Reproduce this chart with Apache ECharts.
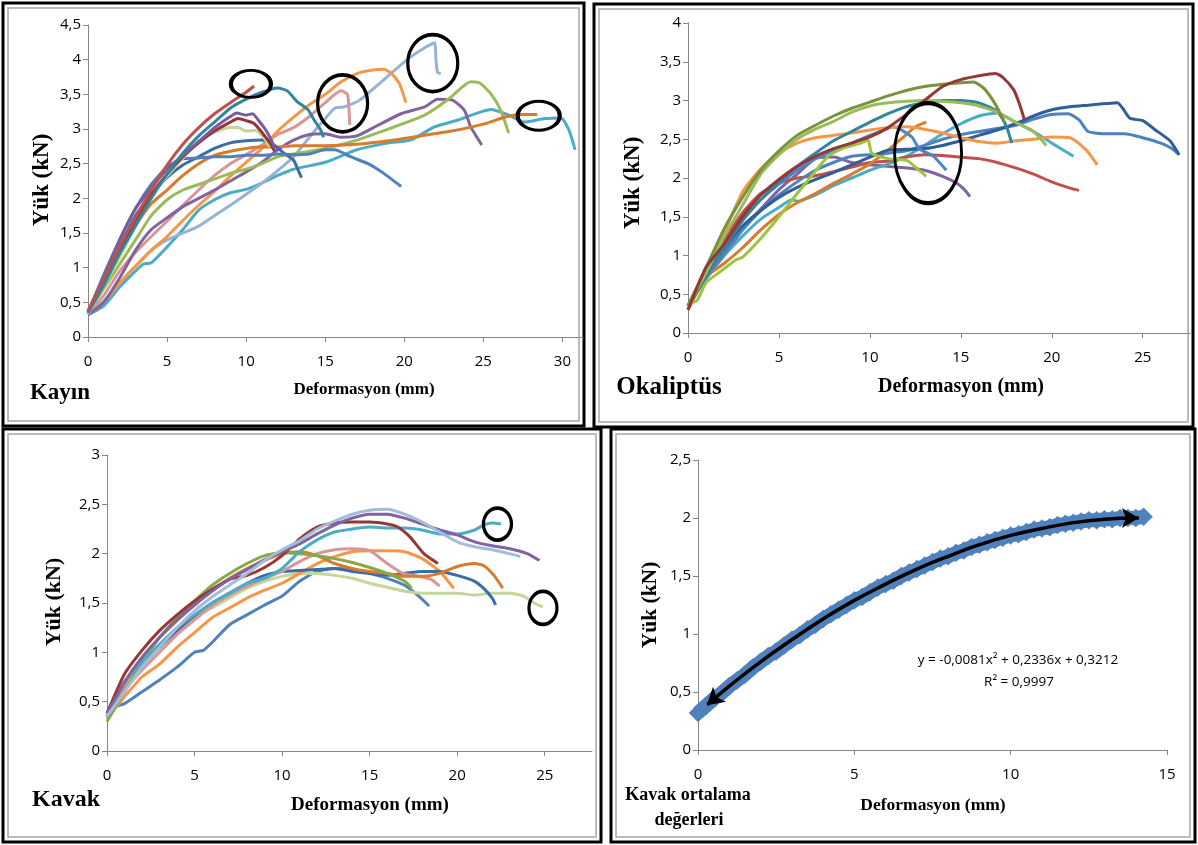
<!DOCTYPE html>
<html>
<head>
<meta charset="utf-8">
<script src="https://cdn.jsdelivr.net/npm/echarts@6/dist/echarts.min.js"></script>
<style>
  html, body { margin: 0; padding: 0; background: #fff; }
  #chart { width: 1198px; height: 845px; }
</style>
</head>
<body>
<div id="chart"></div>
<script>
// tick labels
const kayinXTicks = [0, 5, 10, 15, 20, 25, 30];
const okalXTicks = [0, 5, 10, 15, 20, 25];
const kavakXTicks = [0, 5, 10, 15, 20, 25];
const meanXTicks = [0, 5, 10, 15];

// Kayın curves [deformasyon mm, yük kN]
const kayinRed = [[0,0.38],[1,0.85],[2,1.3],[3,1.72],[4,2.12],[5,2.48],[6,2.78],[7,3.02],[8,3.22],[9,3.38],[10,3.53],[10.5,3.62]];
const kayinTeal = [[0,0.35],[1,0.75],[2,1.2],[3,1.6],[4,2.0],[5,2.35],[6,2.65],[7,2.9],[8,3.1],[9,3.3],[10,3.43],[11,3.53],[12,3.59],[12.6,3.55],[13.2,3.4],[13.9,3.28],[14.3,3.13],[14.7,2.99],[14.9,2.88]];
const kayinPurple = [[0,0.35],[1,0.85],[2,1.4],[3,1.85],[4,2.15],[5,2.42],[6,2.62],[7,2.82],[8,3.02],[9,3.18],[9.4,3.23],[10,3.2],[10.4,3.22],[10.8,3.12],[11.2,3.0],[11.6,2.84],[11.8,2.72]];
const kayinMaroon = [[0,0.35],[1,0.8],[2,1.25],[3,1.68],[4,2.05],[5,2.35],[6,2.6],[7,2.8],[8,2.97],[9,3.1],[9.5,3.15],[10,3.12],[10.5,3.08],[11,2.95],[11.5,2.8],[11.8,2.68]];
const kayinLightGreen = [[0,0.33],[1,0.75],[2,1.15],[3,1.6],[4,2.02],[5,2.32],[6,2.58],[7,2.82],[8,2.95],[9,3.02],[9.5,3.02],[10,2.97],[10.6,2.98],[11.1,2.88],[11.5,2.74]];
const kayinBlue = [[0,0.35],[1,0.9],[2,1.4],[3,1.85],[4,2.2],[5,2.45],[6,2.57],[7,2.58],[8,2.6],[9,2.6],[10,2.62],[11,2.62],[12,2.64],[13,2.63],[14,2.64],[15,2.7],[15.6,2.7],[16.6,2.6],[17.7,2.5],[18.7,2.36],[19.8,2.17]];
const kayinDarkBlue = [[0,0.35],[1,0.8],[2,1.3],[3,1.75],[4,2.05],[5,2.3],[6,2.48],[7,2.6],[8,2.72],[9,2.8],[10,2.83],[11,2.84],[11.7,2.78],[12.4,2.65],[13,2.55],[13.3,2.4],[13.5,2.3]];
const kayinDarkOrange = [[0,0.35],[1,0.75],[2,1.2],[3,1.6],[4,1.92],[5,2.12],[6,2.33],[7,2.5],[8,2.62],[9,2.68],[10,2.72],[11,2.74],[12,2.74],[13,2.76],[15,2.76],[17,2.78],[19,2.83],[21,2.9],[23,2.97],[25,3.07],[26.5,3.18],[27.5,3.21],[28.4,3.21]];
const kayinGreen = [[0,0.35],[1,0.7],[2,1.05],[3,1.4],[4,1.75],[5,1.98],[6,2.12],[7,2.2],[8,2.28],[9,2.36],[10,2.42],[11,2.5],[12,2.6],[13,2.64],[15,2.72],[17,2.84],[19,3.0],[21,3.17],[22,3.3],[23,3.47],[24.2,3.68],[24.8,3.66],[25.5,3.5],[26.1,3.27],[26.6,2.94]];
const kayinPurple2 = [[0,0.32],[1,0.5],[2,0.85],[3,1.25],[4,1.55],[5,1.72],[6,1.88],[7,2.0],[8,2.12],[9,2.25],[10,2.38],[11,2.52],[12,2.7],[13,2.84],[14,2.92],[15,2.93],[16,2.88],[17,2.9],[18.3,3.05],[19.8,3.22],[21.3,3.32],[22.1,3.43],[23,3.42],[23.8,3.27],[24.2,3.03],[24.9,2.77]];
const kayinOrange = [[0,0.33],[1,0.5],[2,0.78],[3,1.02],[4,1.25],[5,1.45],[6,1.68],[7,1.9],[8,2.1],[9,2.32],[10,2.52],[11,2.72],[12,2.97],[13,3.17],[14,3.35],[15,3.5],[16,3.68],[17,3.8],[18,3.85],[18.7,3.86],[19.2,3.8],[19.7,3.65],[20.1,3.38]];
const kayinPink = [[0,0.33],[1,0.6],[2,0.95],[3,1.22],[4,1.45],[5,1.67],[6,1.9],[7,2.12],[8,2.33],[9,2.5],[10,2.63],[11,2.77],[12,2.92],[13,3.02],[14,3.18],[15,3.38],[16,3.55],[16.4,3.5],[16.5,3.3],[16.55,3.06]];
const kayinLightBlue = [[0,0.33],[1,0.52],[2,0.78],[3,1.02],[4,1.25],[5,1.4],[6,1.5],[7,1.6],[8,1.75],[9,1.9],[10,2.06],[11,2.22],[12,2.4],[13,2.6],[14,2.88],[15,3.15],[15.6,3.3],[16.2,3.32],[17.2,3.42],[18.7,3.71],[20.4,4.04],[21.9,4.24],[22.0,4.0],[22.1,3.82],[22.3,3.8]];
const kayinAqua = [[0,0.32],[1,0.45],[2,0.72],[3,0.95],[3.5,1.05],[4,1.07],[5,1.3],[6,1.55],[7,1.83],[8,1.98],[9,2.08],[10,2.13],[11,2.22],[12,2.33],[13,2.42],[15,2.52],[17,2.7],[19,2.8],[20.4,2.84],[21.9,3.03],[23.4,3.13],[25.5,3.28],[26.6,3.2],[27.6,3.1],[28.9,3.15],[29.9,3.16],[30.4,2.99],[30.8,2.7]];
const kayinRings = [[10.3,3.65],[16.1,3.37],[21.8,3.95],[28.5,3.19]];

// Okaliptüs curves
const okalMaroon = [[0,0.3],[1,0.85],[2,1.15],[3,1.5],[4,1.78],[5,1.98],[6,2.15],[7,2.28],[8,2.38],[9,2.45],[10,2.53],[11,2.65],[12,2.82],[13,3.0],[14,3.18],[15,3.27],[16,3.32],[16.9,3.35],[17.3,3.3],[17.9,3.14],[18.2,2.97],[18.5,2.75]];
const okalOlive = [[0,0.35],[1,0.85],[2,1.35],[3,1.75],[4,2.1],[5,2.35],[6,2.55],[7,2.68],[8,2.8],[9,2.9],[10,2.98],[11,3.06],[12,3.13],[13,3.18],[14,3.21],[15,3.23],[15.7,3.24],[16.3,3.15],[16.9,2.95],[17.4,2.72]];
const okalGreen = [[0,0.35],[1,0.78],[2,1.25],[3,1.65],[4,2.05],[5,2.3],[6,2.5],[7,2.63],[8,2.73],[9,2.85],[10,2.93],[11,2.97],[12,2.99],[13,3.0],[14,2.99],[15,2.97],[16,2.93],[17,2.85],[18,2.72],[19,2.6],[19.7,2.42]];
const okalTeal = [[0,0.35],[1,0.75],[2,1.1],[3,1.45],[4,1.72],[5,1.95],[6,2.15],[7,2.32],[8,2.48],[9,2.6],[10,2.72],[11,2.83],[12,2.92],[13,2.97],[14,3.0],[15,3.0],[16,2.97],[17,2.86],[17.5,2.67],[17.8,2.45]];
const okalOrange = [[0,0.35],[1,0.8],[2,1.3],[3,1.82],[4,2.12],[5,2.32],[6,2.45],[7,2.52],[8,2.55],[9,2.58],[10,2.62],[11,2.65],[12,2.66],[13,2.63],[14,2.58],[15,2.52],[16,2.47],[17,2.45],[18,2.48],[19,2.5],[20,2.53],[21,2.52],[21.9,2.36],[22.5,2.17]];
const okalDarkOrange = [[0,0.3],[1,0.72],[2,0.9],[3,1.1],[4,1.33],[5,1.53],[6,1.68],[7,1.8],[8,1.93],[9,2.05],[10,2.18],[11,2.36],[12,2.56],[12.5,2.66],[13.1,2.72]];
const okalRed = [[0,0.3],[0.5,0.55],[1,0.85],[1.5,0.98],[2,1.2],[3,1.55],[4,1.8],[5,1.93],[6,2.0],[7,2.03],[8,2.08],[9,2.14],[10,2.2],[11,2.22],[12,2.27],[13,2.3],[14,2.29],[15,2.27],[16,2.25],[17,2.2],[18,2.13],[19,2.05],[20,1.95],[21,1.87],[21.5,1.84]];
const okalDarkBlue = [[0,0.35],[1,0.75],[2,1.1],[3,1.38],[4,1.58],[5,1.75],[6,1.88],[7,1.98],[8,2.07],[9,2.17],[10,2.27],[11,2.36],[12,2.37],[13,2.38],[14,2.42],[15,2.48],[16,2.55],[17,2.62],[18,2.7],[19,2.8],[20,2.88],[21,2.92],[22,2.94],[23,2.96],[23.6,2.97],[23.9,2.9],[24.3,2.77],[25,2.74],[25.7,2.62],[26.5,2.48],[27,2.3]];
const okalBlue = [[0,0.35],[1,0.8],[2,1.15],[3,1.48],[4,1.72],[5,1.92],[6,2.1],[7,2.25],[8,2.35],[9,2.45],[10,2.55],[11,2.64],[11.3,2.66],[12.3,2.53],[12.7,2.38],[13.5,2.28],[14.2,2.1]];
const okalBlue2 = [[0,0.35],[1,0.72],[2,1.02],[3,1.33],[4,1.58],[5,1.78],[6,1.95],[7,2.1],[8,2.2],[9,2.28],[10,2.3],[11,2.32],[12,2.35],[13,2.42],[14,2.5],[15,2.56],[16,2.6],[17,2.64],[18,2.68],[19,2.76],[20,2.82],[20.9,2.83],[21.5,2.75],[22,2.6],[23,2.57],[24,2.57],[25,2.52],[26,2.45],[26.6,2.38],[27,2.3]];
const okalAqua = [[0,0.35],[1,0.7],[2,1.0],[3,1.25],[4,1.47],[5,1.62],[5.7,1.72],[6,1.7],[7,1.78],[8,1.9],[9,2.0],[10,2.1],[11,2.18],[12,2.28],[13,2.42],[14,2.57],[15,2.7],[16,2.8],[17,2.84],[18,2.72],[19,2.6],[20,2.45],[21.2,2.28]];
const okalLime = [[0,0.38],[0.5,0.42],[1,0.65],[2,0.83],[2.6,0.94],[3,0.98],[4,1.22],[5,1.5],[6,1.8],[6.6,1.97],[7.7,2.28],[8.5,2.38],[9.5,2.45],[9.9,2.49],[10.1,2.32],[11,2.25],[12,2.23],[12.6,2.12],[13.1,2.02]];
const okalPurple = [[0,0.35],[1,0.75],[2,1.05],[3,1.35],[4,1.6],[5,1.85],[6,2.05],[7,2.25],[8,2.27],[9,2.2],[10,2.17],[11,2.15],[12,2.13],[13,2.1],[14,2.02],[14.8,1.93],[15.2,1.85],[15.5,1.76]];
const okalRings = [[13.2,2.32]];

// Kavak curves
const kavakLightBlue = [[0,0.35],[1,0.6],[2,0.85],[3,1.05],[4,1.25],[5,1.42],[6,1.56],[7,1.68],[8,1.8],[9,1.93],[10,2.04],[11,2.13],[12,2.25],[13,2.33],[14,2.4],[15,2.44],[16,2.45],[17,2.4],[18,2.32],[19,2.22],[20,2.12],[21,2.07],[22,2.04],[23,2.0],[23.6,1.97]];
const kavakPurple = [[0,0.38],[1,0.7],[2,0.95],[3,1.15],[4,1.33],[5,1.48],[6,1.62],[7,1.74],[8,1.84],[9,1.94],[10,2.02],[11,2.1],[12,2.2],[13,2.29],[14,2.36],[15,2.4],[16,2.4],[17,2.36],[18,2.3],[19,2.24],[20,2.19],[21,2.12],[22,2.08],[23,2.05],[24,2.0],[24.7,1.93]];
const kavakDarkRed = [[0,0.38],[1,0.78],[2,1.02],[3,1.22],[4,1.38],[5,1.52],[6,1.64],[7,1.74],[8,1.78],[9,1.86],[10,1.98],[11,2.15],[12,2.27],[13,2.31],[14,2.32],[15,2.32],[16,2.3],[16.6,2.27],[17.3,2.17],[18.1,2.0],[18.9,1.9]];
const kavakAqua = [[0,0.35],[1,0.7],[2,0.9],[3,1.08],[4,1.25],[5,1.38],[6,1.5],[7,1.6],[8,1.7],[9,1.75],[10,1.85],[11,2.02],[12,2.14],[13,2.22],[14,2.25],[15,2.27],[16,2.26],[17,2.26],[18,2.24],[19,2.2],[20,2.2],[21,2.24],[21.5,2.29],[22,2.31],[22.5,2.3]];
const kavakGreen = [[0,0.3],[1,0.6],[2,0.9],[3,1.15],[4,1.35],[5,1.52],[6,1.68],[7,1.8],[8,1.9],[9,1.98],[10,2.01],[11,2.0],[12,1.98],[13,1.95],[14,1.91],[15,1.86],[16,1.8],[17,1.72],[17.4,1.65]];
const kavakDarkOrange = [[0,0.35],[1,0.68],[2,0.92],[3,1.15],[4,1.32],[5,1.48],[6,1.62],[7,1.75],[8,1.85],[9,1.93],[10,2.0],[11,2.02],[12,1.98],[13,1.9],[14,1.85],[15,1.82],[16,1.8],[17,1.77],[18,1.77],[19,1.8],[20,1.87],[21,1.9],[21.5,1.88],[22.1,1.78],[22.6,1.65]];
const kavakDarkBlue = [[0,0.35],[1,0.62],[2,0.85],[3,1.05],[4,1.22],[5,1.37],[6,1.5],[7,1.6],[8,1.7],[9,1.78],[10,1.82],[11,1.83],[12,1.84],[13,1.85],[14,1.82],[15,1.8],[16,1.78],[17,1.8],[18,1.82],[19,1.82],[20,1.78],[21,1.72],[21.5,1.65],[22,1.55],[22.2,1.48]];
const kavakBlue = [[0,0.4],[0.5,0.45],[1,0.48],[2,0.6],[3,0.72],[4,0.85],[5,1.0],[5.5,1.02],[6,1.1],[7,1.28],[8,1.38],[9,1.48],[10,1.57],[11,1.72],[12,1.82],[13,1.85],[14,1.84],[15,1.8],[16,1.75],[17,1.68],[17.8,1.57],[18.4,1.47]];
const kavakOrange = [[0,0.33],[1,0.55],[2,0.75],[3,0.88],[4,1.05],[5,1.2],[6,1.35],[7,1.45],[8,1.55],[9,1.63],[10,1.7],[11,1.8],[12,1.9],[13,1.97],[14,2.02],[15,2.03],[16,2.03],[17,2.02],[18,1.95],[19,1.82],[19.8,1.65]];
const kavakPink = [[0,0.33],[1,0.62],[2,0.82],[3,1.0],[4,1.18],[5,1.33],[6,1.47],[7,1.58],[8,1.67],[9,1.75],[10,1.82],[11,1.92],[12,2.0],[13,2.04],[14,2.05],[15,2.03],[16,1.9],[16.9,1.8],[17.8,1.77],[18.5,1.74],[19,1.67]];
const kavakLightGreen = [[0,0.33],[1,0.62],[2,0.88],[3,1.05],[4,1.2],[5,1.35],[6,1.45],[7,1.55],[8,1.65],[9,1.72],[10,1.77],[11,1.8],[12,1.8],[13,1.78],[14,1.75],[15,1.7],[16,1.66],[17,1.62],[18,1.6],[19,1.6],[20,1.6],[21,1.58],[22,1.6],[23,1.6],[23.8,1.57],[24.4,1.5],[24.9,1.46]];
const kavakRings = [[22.3,2.3],[24.9,1.45]];

// Kavak ortalama değerleri (mean points) and its 2nd order trend line
const kavakMean = [[0,0.32],[0.25,0.38],[0.5,0.44],[0.75,0.49],[1,0.55],[1.25,0.6],[1.5,0.65],[1.75,0.71],[2,0.76],[2.25,0.81],[2.5,0.85],[2.75,0.9],[3,0.95],[3.25,0.99],[3.5,1.04],[3.75,1.08],[4,1.13],[4.25,1.17],[4.5,1.21],[4.75,1.25],[5,1.29],[5.25,1.32],[5.5,1.36],[5.75,1.4],[6,1.43],[6.25,1.46],[6.5,1.5],[6.75,1.53],[7,1.56],[7.25,1.59],[7.5,1.62],[7.75,1.65],[8,1.67],[8.25,1.7],[8.5,1.72],[8.75,1.75],[9,1.77],[9.25,1.79],[9.5,1.81],[9.75,1.83],[10,1.85],[10.25,1.86],[10.5,1.88],[10.75,1.9],[11,1.91],[11.25,1.92],[11.5,1.94],[11.75,1.95],[12,1.96],[12.25,1.97],[12.5,1.98],[12.75,1.98],[13,1.99],[13.25,1.99],[13.5,2.0],[13.75,2.0],[14,2.0],[14.25,2.01]];
const kavakTrend = [[0.3,0.39],[1,0.55],[2,0.76],[3,0.95],[4,1.13],[5,1.29],[6,1.43],[7,1.56],[8,1.67],[9,1.77],[10,1.85],[11,1.91],[12,1.96],[13,1.99],[14,2.0],[14.1,2.0]];
const kavakTrendEnds = [[0.28,0.385],[14.1,2.0]];
const trendLabel = ['y = -0,0081x\u00b2 + 0,2336x + 0,3212', 'R\u00b2 = 0,9997'];

const chart = echarts.init(document.getElementById('chart'));

const tickFont = { fontFamily: '"Open Sans", sans-serif', fontSize: 15, color: '#000' };
const axisGray = '#868686';

function xAxis(gridIndex, max, ticks) {
  return {
    gridIndex, type: 'value', min: 0, max,
    axisLine: { show: true, onZero: false, lineStyle: { color: axisGray, width: 1 } },
    axisTick: { show: true, length: 5, customValues: ticks, lineStyle: { color: axisGray } },
    axisLabel: Object.assign({ customValues: ticks, margin: 17 }, tickFont),
    splitLine: { show: false }
  };
}
function yAxis(gridIndex, max) {
  return {
    gridIndex, type: 'value', min: 0, max, interval: 0.5,
    axisLine: { show: true, onZero: false, lineStyle: { color: axisGray, width: 1 } },
    axisTick: { show: true, length: 5, lineStyle: { color: axisGray } },
    axisLabel: Object.assign({ margin: 7, formatter: v => String(v).replace('.', ',') }, tickFont),
    splitLine: { show: false }
  };
}

const series = [];
function addLines(list, grid) {
  list.forEach(([data, color]) => {
    series.push({
      type: 'line', xAxisIndex: grid, yAxisIndex: grid, data,
      symbol: 'none', smooth: 0.2, silent: true,
      lineStyle: { color, width: 3 }, itemStyle: { color }
    });
  });
}
function addRings(points, sizes, grid) {
  series.push({
    type: 'scatter', xAxisIndex: grid, yAxisIndex: grid, silent: true, z: 5,
    data: points.map((p, i) => ({ value: p, symbolSize: sizes[i] })),
    symbol: 'circle',
    itemStyle: { color: 'rgba(0,0,0,0)', borderColor: '#000', borderWidth: 3.5, opacity: 1 }
  });
}

addLines([
  [kayinAqua, '#4BACC6'], [kayinLightBlue, '#95B3D7'], [kayinPink, '#D99694'],
  [kayinOrange, '#F79646'], [kayinPurple2, '#8064A2'], [kayinGreen, '#9BBB59'],
  [kayinDarkOrange, '#DA7A2C'], [kayinDarkBlue, '#3A6CA8'], [kayinBlue, '#4F81BD'],
  [kayinLightGreen, '#C3D69B'], [kayinMaroon, '#953735'], [kayinPurple, '#7A5C9E'],
  [kayinTeal, '#31859C'], [kayinRed, '#C0504D']
], 0);
addRings(kayinRings, [[40, 27], [50, 57], [50, 57], [42, 29]], 0);

addLines([
  [okalPurple, '#8064A2'], [okalAqua, '#4BACC6'], [okalRed, '#C0504D'],
  [okalDarkOrange, '#DA7A2C'], [okalBlue2, '#4F81BD'], [okalDarkBlue, '#2F5F98'],
  [okalBlue, '#4A86C8'], [okalOrange, '#F79646'], [okalTeal, '#31859C'],
  [okalLime, '#9BC53D'], [okalGreen, '#9BBB59'], [okalOlive, '#77933C'],
  [okalMaroon, '#953735']
], 1);
addRings(okalRings, [[67, 100]], 1);

addLines([
  [kavakBlue, '#4F81BD'], [kavakLightGreen, '#C3D69B'], [kavakOrange, '#F79646'],
  [kavakDarkBlue, '#3A6CA8'], [kavakPink, '#D99694'], [kavakDarkOrange, '#DA7A2C'],
  [kavakGreen, '#86A845'], [kavakAqua, '#4BACC6'], [kavakDarkRed, '#953735'],
  [kavakPurple, '#8064A2'], [kavakLightBlue, '#A3BCDC']
], 2);
addRings(kavakRings, [[28, 32], [28, 33]], 2);

// mean values: a thick band under the diamond markers
series.push({
  type: 'line', xAxisIndex: 3, yAxisIndex: 3, data: kavakMean, silent: true,
  symbol: 'diamond', symbolSize: 18, showSymbol: true, showAllSymbol: true,
  lineStyle: { color: '#4F81BD', width: 14 },
  itemStyle: { color: '#4F81BD', borderColor: '#4F81BD', borderWidth: 0.5 }
});
series.push({
  type: 'line', xAxisIndex: 3, yAxisIndex: 3, data: kavakTrend, silent: true, z: 4,
  symbol: 'none', smooth: true, lineStyle: { color: '#000', width: 3.5 }
});
series.push({
  type: 'scatter', xAxisIndex: 3, yAxisIndex: 3, silent: true, z: 5,
  data: kavakTrendEnds.map((p, i) => ({ value: p, symbolRotate: [131, -90][i] })),
  symbol: 'arrow', symbolSize: [15, 17], itemStyle: { color: '#000', opacity: 1 }
});

function frame(x, y, w, h) {
  return [
    { type: 'rect', shape: { x, y, width: w, height: h }, style: { fill: 'transparent', stroke: '#000', lineWidth: 3 }, silent: true },
    { type: 'rect', shape: { x: x + 5, y: y + 5, width: w - 10, height: h - 10 }, style: { fill: 'transparent', stroke: '#a6a6a6', lineWidth: 1.5 }, silent: true }
  ];
}
function label(text, x, y, size, opts) {
  return Object.assign({
    type: 'text', x, y, silent: true,
    style: { text, font: 'bold ' + size + 'px "Liberation Serif", serif', fill: '#000', align: 'center', verticalAlign: 'middle' }
  }, opts || {});
}
const up = { rotation: Math.PI / 2 };

const graphic = [].concat(
  frame(3, 3, 581, 423), frame(594, 4, 599, 423), frame(3, 429, 598, 413), frame(611, 429, 584, 413),
  [
    label('Yük (kN)', 42, 180, 23, up),
    label('Deformasyon (mm)', 364, 390, 17),
    label('Kayın', 60, 393, 23),
    label('Yük (kN)', 633, 183, 23, up),
    label('Deformasyon (mm)', 961, 387, 20),
    label('Okaliptüs', 669, 388, 25),
    label('Yük (kN)', 54, 602, 22, up),
    label('Deformasyon (mm)', 370, 805, 19),
    label('Kavak', 66, 800, 24),
    label('Yük (kN)', 650, 605, 21.5, up),
    label('Deformasyon (mm)', 933, 805, 17.5),
    label('Kavak ortalama', 688, 795, 18),
    label('değerleri', 689, 820, 18),
    { type: 'text', x: 1018, y: 660, silent: true, style: { text: trendLabel[0], font: '13.5px "Open Sans", sans-serif', fill: '#000', align: 'center', verticalAlign: 'middle' } },
    { type: 'text', x: 1019, y: 682, silent: true, style: { text: trendLabel[1], font: '13.5px "Open Sans", sans-serif', fill: '#000', align: 'center', verticalAlign: 'middle' } }
  ]
);

chart.setOption({
  animation: false,
  backgroundColor: '#fff',
  textStyle: { fontFamily: '"Open Sans", sans-serif' },
  grid: [
    { left: 88, top: 25, width: 495, height: 312, outerBoundsMode: 'none' },
    { left: 688, top: 23, width: 502, height: 310, outerBoundsMode: 'none' },
    { left: 107, top: 455, width: 485, height: 296, outerBoundsMode: 'none' },
    { left: 698, top: 460, width: 469, height: 290, outerBoundsMode: 'none' }
  ],
  xAxis: [
    xAxis(0, 31.3, kayinXTicks),
    xAxis(1, 27.6, okalXTicks),
    xAxis(2, 27.7, kavakXTicks),
    xAxis(3, 15, meanXTicks)
  ],
  yAxis: [yAxis(0, 4.5), yAxis(1, 4), yAxis(2, 3), yAxis(3, 2.5)],
  series,
  graphic
});
</script>
</body>
</html>
